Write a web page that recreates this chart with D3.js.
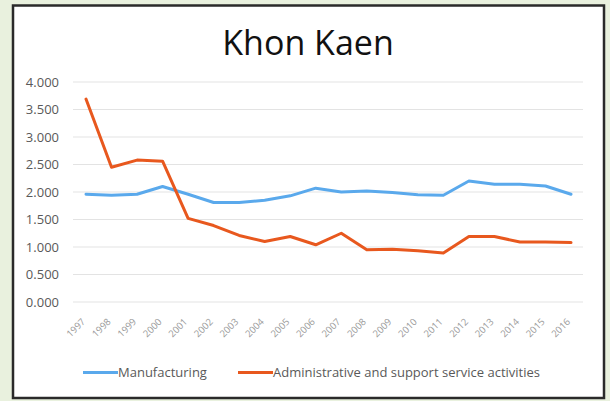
<!DOCTYPE html>
<html><head><meta charset="utf-8">
<script src="https://cdn.jsdelivr.net/npm/d3@7"></script>
<style>
html,body{margin:0;padding:0;background:#e9f1de;}
svg{display:block;}
</style></head>
<body>
<script>
const years = ["1997","1998","1999","2000","2001","2002","2003","2004","2005","2006","2007","2008","2009","2010","2011","2012","2013","2014","2015","2016"];
const manufacturing = [1.96,1.94,1.96,2.10,1.96,1.81,1.81,1.85,1.93,2.07,2.00,2.02,1.99,1.95,1.94,2.20,2.14,2.14,2.11,1.96];
const adminSupport = [3.69,2.45,2.58,2.56,1.52,1.39,1.21,1.10,1.19,1.04,1.25,0.95,0.96,0.93,0.89,1.19,1.19,1.09,1.09,1.08];
const yTicks = [0,0.5,1,1.5,2,2.5,3,3.5,4];
const seriesNames = ["Manufacturing","Administrative and support service activities"];
const seriesColors = ["#5aa9ec","#e8581e"];

const W = 610, H = 401;
const svg = d3.select("body").append("svg").attr("width", W).attr("height", H);

// frame
svg.append("rect").attr("x",0).attr("y",0).attr("width",W).attr("height",H).attr("fill","#e9f1de");
svg.append("rect").attr("x",13).attr("y",5.5).attr("width",591).attr("height",392.5)
  .attr("fill","#ffffff").attr("stroke","#2a2a2a").attr("stroke-width",2.5);

const x = d3.scalePoint().domain(years).range([86, 571]);
const y = d3.scaleLinear().domain([0,4]).range([302, 82]);

// gridlines
svg.append("g").selectAll("line").data(yTicks).join("line")
  .attr("x1",73).attr("x2",583)
  .attr("y1",d=>y(d)).attr("y2",d=>y(d))
  .attr("stroke","#e3e3e3").attr("stroke-width",1.2);

// y axis labels
const yAxis = d3.axisLeft(y).tickValues(yTicks).tickFormat(d3.format(".3f")).tickSize(0).tickPadding(0);
const yg = svg.append("g").attr("transform","translate(59,0)").call(yAxis);
yg.select(".domain").remove();
yg.selectAll("text").attr("font-family","Open Sans, sans-serif").attr("font-size",13).attr("fill","#595959");

// x axis labels
const xAxis = d3.axisBottom(x).tickSize(0).tickPadding(0);
const xg = svg.append("g").attr("transform","translate(0,320)").call(xAxis);
xg.select(".domain").remove();
xg.selectAll("text")
  .attr("font-family","Open Sans, sans-serif").attr("font-size",9.5).attr("fill","#9a9a9a")
  .attr("text-anchor","end").attr("y",0).attr("dy","0.35em")
  .attr("transform","translate(-3,0) rotate(-45)");

// lines
const line = d3.line().x((d,i)=>x(years[i])).y(d=>y(d));
[manufacturing, adminSupport].forEach((s,k)=>{
  svg.append("path").datum(s).attr("d",line).attr("fill","none")
    .attr("stroke",seriesColors[k]).attr("stroke-width",3).attr("stroke-linejoin","round").attr("stroke-linecap","round");
});

// title
svg.append("text").attr("x",308).attr("y",55).attr("text-anchor","middle")
  .attr("font-family","Open Sans, sans-serif").attr("font-size",34).attr("fill","#111")
  .text("Khon Kaen");

// legend
const legX = [83, 238];
seriesNames.forEach((n,k)=>{
  const g = svg.append("g").attr("transform",`translate(${legX[k]},372.5)`);
  g.append("line").attr("x1",0).attr("x2",35).attr("y1",0).attr("y2",0)
    .attr("stroke",seriesColors[k]).attr("stroke-width",3);
  g.append("text").attr("x",35).attr("y",0).attr("dy","0.35em")
    .attr("font-family","Open Sans, sans-serif").attr("font-size",13).attr("fill","#595959")
    .text(n);
});
</script>
</body></html>
